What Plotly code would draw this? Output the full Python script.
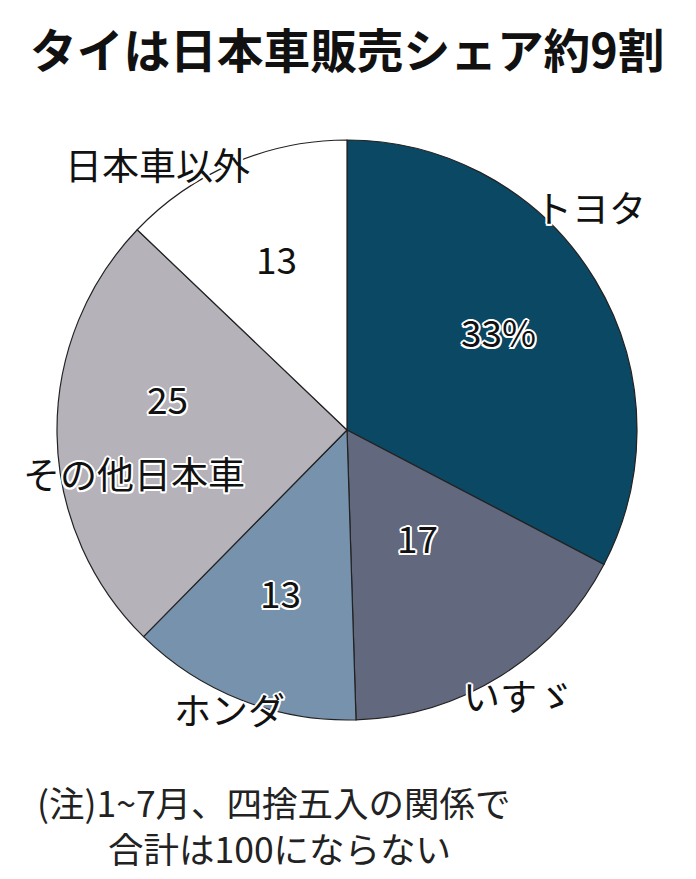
import plotly.graph_objects as go

# Share of car sales in Thailand, Jan-Jul (%)
makers = ["トヨタ", "いすゞ", "ホンダ", "その他日本車", "日本車以外"]
shares = [33, 17, 13, 25, 13]
value_texts = ["33%", "17", "13", "25", "13"]
colors = ["#0b4864", "#62687e", "#7692ac", "#b5b2ba", "#ffffff"]

title_text = "タイは日本車販売シェア約9割"
note_lines = ["(注)1~7月、四捨五入の関係で", "　　合計は100にならない"]

# the page body adds an 8px margin, so the figure is drawn 8px in from the corner
OFF = 8
W, H = 696 - OFF, 879 - OFF
FONT = "Noto Sans CJK JP"
HALO = ("2px 0 0 #fff, -2px 0 0 #fff, 0 2px 0 #fff, 0 -2px 0 #fff, "
        "1.5px 1.5px 0 #fff, -1.5px -1.5px 0 #fff, 1.5px -1.5px 0 #fff, -1.5px 1.5px 0 #fff")


def px(x, y):
    # window pixel position -> paper coordinates
    return (x - OFF) / W, 1 - (y - OFF) / H


# pie centre (347, 430), radius 290 px in the window
cx, cy, r = 347 - OFF, 430 - OFF, 290

fig = go.Figure()
fig.add_trace(go.Pie(
    labels=makers,
    values=shares,
    sort=False,
    direction="clockwise",
    rotation=0,
    textinfo="none",
    hoverinfo="label+value",
    marker=dict(colors=colors, line=dict(color="#222222", width=1.2)),
    domain=dict(x=[(cx - r) / W, (cx + r) / W], y=[1 - (cy + r) / H, 1 - (cy - r) / H]),
    showlegend=False,
))

annotations = []

# Title
tx, ty = px(347, 47)
annotations.append(dict(text=f"<b>{title_text}</b>", x=tx, y=ty, xref="paper", yref="paper",
                        showarrow=False, xanchor="center", yanchor="middle",
                        font=dict(family=FONT, size=46.7, color="#111111")))

# category names
name_pos = [(590, 207), (518, 695), (229, 709), (134, 473), (157, 164)]
for name, (x, y) in zip(makers, name_pos):
    ax, ay = px(x, y)
    annotations.append(dict(text=name, x=ax, y=ay, xref="paper", yref="paper",
                            showarrow=False, xanchor="center", yanchor="middle",
                            font=dict(family=FONT, size=37, color="#111111", shadow=HALO)))

# values inside the slices
value_pos = [(498, 331), (418, 537), (280, 592), (167, 398), (276, 258)]
for txt, (x, y) in zip(value_texts, value_pos):
    ax, ay = px(x, y)
    annotations.append(dict(text=txt, x=ax, y=ay, xref="paper", yref="paper",
                            showarrow=False, xanchor="center", yanchor="middle",
                            font=dict(family=FONT, size=37, color="#111111", shadow=HALO)))

# footnote
nx, ny = px(35, 824)
annotations.append(dict(text="<br>".join(note_lines), x=nx, y=ny, xref="paper", yref="paper",
                        showarrow=False, xanchor="left", yanchor="middle", align="left",
                        font=dict(family=FONT, size=35.5, color="#222222")))

lx, _ = px(693, 0)
fig.update_layout(
    width=W,
    height=H,
    margin=dict(l=0, r=0, t=0, b=0),
    paper_bgcolor="white",
    plot_bgcolor="white",
    annotations=annotations,
    shapes=[dict(type="line", xref="paper", yref="paper", x0=lx, x1=lx, y0=0, y1=1,
                 line=dict(color="#cccccc", width=1, dash="dash"))],
)

fig.write_html("out.html")
